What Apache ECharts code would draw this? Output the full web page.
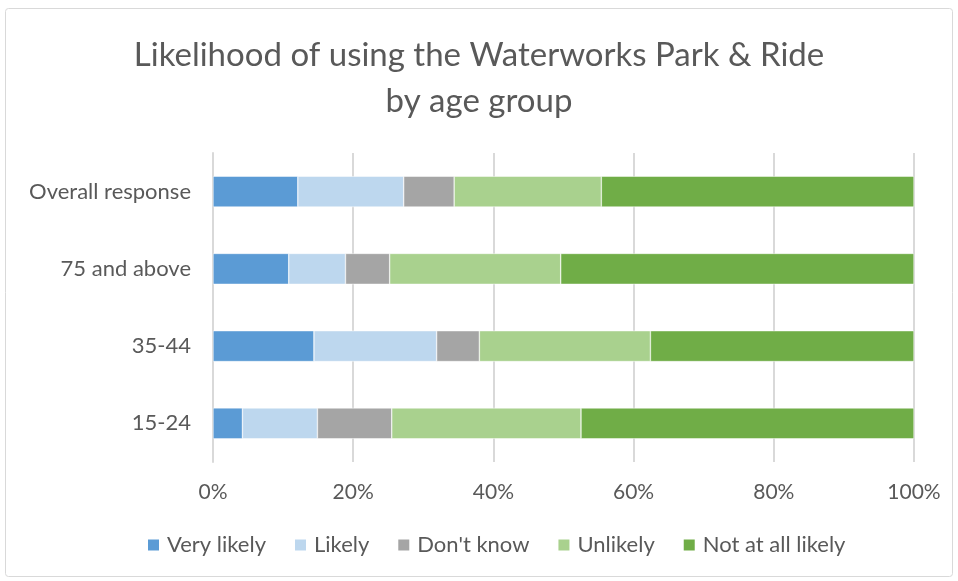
<!DOCTYPE html>
<html>
<head>
<meta charset="utf-8">
<script src="https://cdn.jsdelivr.net/npm/echarts@6/dist/echarts.min.js"></script>
<style>
  html, body { margin: 0; padding: 0; background: #ffffff; }
  #chart { width: 958px; height: 581px; }
</style>
</head>
<body>
<div id="chart"></div>
<script>
// Age groups, listed bottom to top on the category axis
const categories = ['15-24', '35-44', '75 and above', 'Overall response'];

// Share of respondents (%) per answer
const veryLikely    = [4.2, 14.4, 10.8, 12.1];
const likely        = [10.7, 17.5, 8.1, 15.1];
const dontKnow      = [10.6, 6.1, 6.3, 7.2];
const unlikely      = [27.0, 24.4, 24.4, 21.0];
const notAtAll      = [47.5, 37.6, 50.4, 44.6];

const xTicks = ['0%', '20%', '40%', '60%', '80%', '100%'];

const seriesDefs = [
  { name: 'Very likely',       data: veryLikely, color: '#5b9bd5' },
  { name: 'Likely',            data: likely,     color: '#bdd7ee' },
  { name: "Don't know",        data: dontKnow,   color: '#a5a5a5' },
  { name: 'Unlikely',          data: unlikely,   color: '#a9d18e' },
  { name: 'Not at all likely', data: notAtAll,   color: '#70ad47' }
];

const FONT = 'Lato';
const TEXT = '#595959';

const chart = echarts.init(document.getElementById('chart'), null, { renderer: 'canvas' });

chart.setOption({
  backgroundColor: '#ffffff',
  animation: false,
  graphic: [{
    type: 'rect',
    shape: { x: 5.5, y: 8.5, width: 947, height: 568, r: 3 },
    style: { fill: 'none', stroke: '#d9d9d9', lineWidth: 1 },
    silent: true
  }],
  title: {
    text: 'Likelihood of using the Waterworks Park & Ride\nby age group',
    left: 'center',
    top: 27,
    textStyle: {
      fontFamily: FONT,
      fontWeight: 'normal',
      fontSize: 33,
      lineHeight: 46,
      color: TEXT
    }
  },
  legend: {
    bottom: 20,
    left: 141,
    itemWidth: 13,
    itemHeight: 13,
    itemGap: 27,
    icon: 'rect',
    textStyle: { fontFamily: FONT, fontSize: 22, color: TEXT, padding: [0, 0, 0, 2] },
    data: seriesDefs.map(s => s.name)
  },
  grid: {
    left: 213,
    right: 44,
    top: 153,
    bottom: 119,
    containLabel: false
  },
  xAxis: {
    type: 'value',
    min: 0,
    max: 100,
    interval: 20,
    axisLine: { show: false },
    axisTick: { show: false },
    splitLine: { lineStyle: { color: '#d9d9d9', width: 2 } },
    axisLabel: {
      fontFamily: FONT,
      fontSize: 21,
      color: TEXT,
      margin: 20,
      formatter: v => xTicks[Math.round(v / 20)]
    }
  },
  yAxis: {
    type: 'category',
    data: categories,
    axisLine: { show: true, lineStyle: { color: '#d9d9d9', width: 2 } },
    axisTick: { show: false },
    axisLabel: {
      fontFamily: FONT,
      fontSize: 22,
      color: TEXT,
      margin: 22
    }
  },
  series: seriesDefs.map(s => ({
    name: s.name,
    type: 'bar',
    stack: 'total',
    barCategoryGap: '60%',
    data: s.data,
    itemStyle: { color: s.color, borderColor: '#ffffff', borderWidth: 0.5 },
    emphasis: { disabled: true }
  }))
});
</script>
</body>
</html>
